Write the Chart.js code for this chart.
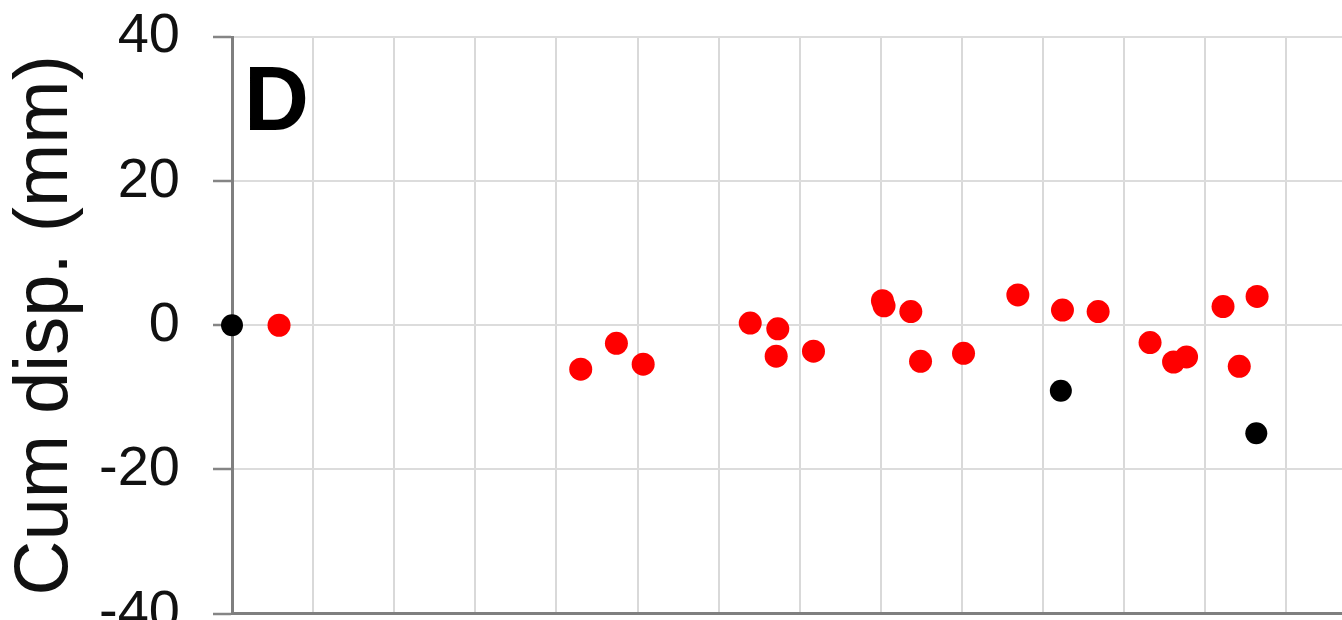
<!DOCTYPE html>
<html>
<head>
<meta charset="utf-8">
<title>Cum disp. (mm)</title>
<script src="https://cdn.jsdelivr.net/npm/chart.js@4/dist/chart.umd.min.js"></script>
<style>
    html, body { margin: 0; padding: 0; background: #fff; overflow: hidden; }
    #wrap { position: absolute; left: 0; top: 0; width: 1460px; height: 700px; }
</style>
</head>
<body>
<div id="wrap"><canvas id="dispChart"></canvas></div>
<script>
// values (x in grid steps, y in mm)
const redX = [0.58, 4.30, 4.74, 5.07, 6.39, 6.73, 6.71, 7.17, 8.02, 8.04, 8.37, 8.49,
              9.02, 9.69, 10.24, 10.68, 11.32, 11.61, 11.77, 12.22, 12.42, 12.64];
const redY = [0.0, -6.1, -2.5, -5.4, 0.3, -0.5, -4.3, -3.6, 3.4, 2.7, 1.9, -5.0,
              -3.9, 4.2, 2.1, 1.9, -2.4, -5.1, -4.4, 2.6, -5.7, 4.0];
const blackX = [0, 10.22, 12.63];
const blackY = [0, -9.1, -15.0];
const yTicks = [-40, -20, 0, 20, 40];
const xMax = 15;

const toPoints = (xs, ys) => xs.map((x, i) => ({ x: x, y: ys[i] }));

// panel letter inside the plot
const panelLabel = {
    id: 'panelLabel',
    afterDraw(chart) {
        const { ctx, chartArea } = chart;
        ctx.save();
        ctx.fillStyle = '#000';
        ctx.font = 'bold 90px "Liberation Sans", Arial, sans-serif';
        ctx.textAlign = 'left';
        ctx.textBaseline = 'alphabetic';
        ctx.fillText('D', chartArea.left + 12, chartArea.top + 93);
        ctx.restore();
    }
};

function buildChart() {
    const canvas = document.getElementById('dispChart');
    return new Chart(canvas.getContext('2d'), {
        type: 'scatter',
        data: {
            datasets: [{
                label: 'red',
                data: toPoints(redX, redY),
                backgroundColor: '#ff0000',
                borderWidth: 0,
                pointRadius: 11.5,
                clip: false,
            }, {
                label: 'black',
                data: toPoints(blackX, blackY),
                backgroundColor: '#000000',
                borderWidth: 0,
                pointRadius: 11,
                clip: false,
            }]
        },
        options: {
            responsive: true,
            maintainAspectRatio: false,
            animation: false,
            layout: { padding: { top: 37, left: 0, right: 11.5, bottom: 0 } },
            plugins: {
                legend: { display: false },
                tooltip: { enabled: false },
            },
            scales: {
                x: {
                    type: 'linear',
                    min: 0,
                    max: xMax,
                    ticks: { stepSize: 1, display: false },
                    grid: { color: '#d9d9d9', lineWidth: 2, drawTicks: false },
                    border: { color: '#7f7f7f', width: 3 },
                    afterFit: s => { s.height = 700 - 613.5; },
                },
                y: {
                    min: -40,
                    max: 40,
                    afterBuildTicks: s => { s.ticks = yTicks.map(v => ({ value: v })); },
                    ticks: {
                        color: '#111',
                        padding: 33,
                        font: { family: '"Liberation Sans", Arial, sans-serif', size: 56 },
                    },
                    grid: {
                        color: '#dcdcdc',
                        lineWidth: 2,
                        tickLength: 19,
                        tickColor: '#858585',
                        tickWidth: 2.5,
                    },
                    border: { color: '#7f7f7f', width: 3 },
                    title: {
                        display: true,
                        text: 'Cum disp. (mm)',
                        color: '#111',
                        padding: { top: 0, bottom: 0 },
                        font: { family: '"Liberation Sans", Arial, sans-serif', size: 76 },
                    },
                    // fixed width; labels may spill past the plot top
                    afterFit: s => {
                        s.width = 232;
                        s.paddingTop = 0;
                        s.paddingBottom = 0;
                    },
                }
            }
        },
        plugins: [panelLabel]
    });
}

document.addEventListener('DOMContentLoaded', () => {
    buildChart();
});
</script>
</body>
</html>
